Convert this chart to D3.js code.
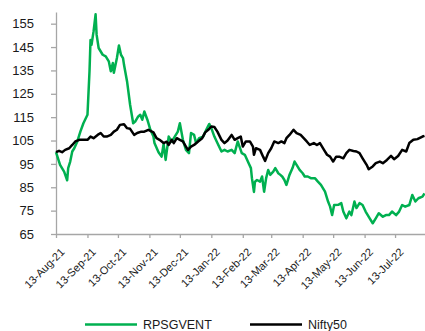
<!DOCTYPE html>
<html>
<head>
<meta charset="utf-8">
<script src="https://cdn.jsdelivr.net/npm/d3@7"></script>
<style>
  html, body { margin: 0; padding: 0; background: #fff; }
  svg { display: block; font-family: "Liberation Sans", Arial, sans-serif; }
</style>
</head>
<body>
<svg id="chart" width="425" height="331"></svg>
<script>
// ---------- DATA ----------
const rpsgDates = ["2021-08-13","2021-08-17","2021-08-21","2021-08-24","2021-08-25","2021-08-27","2021-08-29","2021-08-31",
"2021-09-03","2021-09-06","2021-09-09","2021-09-13","2021-09-15","2021-09-16","2021-09-17","2021-09-19","2021-09-21","2021-09-22",
"2021-09-24","2021-09-28","2021-10-01","2021-10-04","2021-10-06","2021-10-08","2021-10-09","2021-10-12","2021-10-14","2021-10-16",
"2021-10-18","2021-10-19","2021-10-22","2021-10-25","2021-10-28","2021-10-30","2021-11-02","2021-11-04","2021-11-06","2021-11-08",
"2021-11-11","2021-11-14","2021-11-17","2021-11-18","2021-11-22","2021-11-25","2021-11-27","2021-11-29","2021-12-02","2021-12-05",
"2021-12-08","2021-12-11","2021-12-13","2021-12-16","2021-12-19","2021-12-22","2021-12-24","2021-12-27","2021-12-29","2022-01-01",
"2022-01-05","2022-01-08","2022-01-11","2022-01-13","2022-01-16","2022-01-19","2022-01-23","2022-01-26","2022-01-29","2022-02-02",
"2022-02-05","2022-02-08","2022-02-12","2022-02-15","2022-02-18","2022-02-21","2022-02-22","2022-02-24","2022-02-25","2022-02-27",
"2022-03-02","2022-03-04","2022-03-06","2022-03-08","2022-03-10","2022-03-12","2022-03-15","2022-03-17","2022-03-20","2022-03-22",
"2022-03-24","2022-03-26","2022-03-28","2022-03-31","2022-04-03","2022-04-05","2022-04-07","2022-04-10","2022-04-13","2022-04-15",
"2022-04-18","2022-04-21","2022-04-25","2022-04-28","2022-05-01","2022-05-05","2022-05-08","2022-05-10","2022-05-12","2022-05-14",
"2022-05-18","2022-05-21","2022-05-23","2022-05-26","2022-05-29","2022-05-31","2022-06-03","2022-06-05","2022-06-08","2022-06-11",
"2022-06-14","2022-06-18","2022-06-21","2022-06-24","2022-06-27","2022-07-01","2022-07-04","2022-07-07","2022-07-10","2022-07-14",
"2022-07-17","2022-07-20","2022-07-23","2022-07-27","2022-07-30","2022-08-02","2022-08-05","2022-08-09","2022-08-11"];
const rpsgValues = [100,94.6,91.7,88,93.2,96,100.3,101.7,
104.6,108.8,112.4,116,134.6,148,146,151.7,159,150.3,
144.6,141.7,141,138.9,134.6,138.2,134,140.3,145.7,141.7,
140.3,137.4,130.3,120.3,112.4,113.1,115.3,116,113.9,117.4,
113.9,109.6,106.7,103.9,100,98.1,103.5,96.7,106.7,104.5,
106.7,108.8,112.4,105.3,101,99.6,108.2,107.4,103.9,106,
106.7,109.6,112.1,110.3,106.7,103.9,100.3,101,100.3,101,
99.6,104.6,99.6,98.9,96,93.2,88.9,83,87.4,88.1,
87.4,89.6,83.1,88.9,92.4,90.3,91.7,93.2,91,90.3,
89.5,88.1,86,90.3,93.2,96,94.6,92.4,91,89.6,
89.6,88.9,88.9,87.4,86,83.1,78.9,76.7,73.1,77.4,
77.5,78.2,74.6,71.7,74.6,73.1,78.9,76.1,78.2,77.4,
74.6,71.7,69.6,71.7,73.9,72.4,73.1,73.1,74.6,73.1,
74.6,77.4,76.7,77.4,81.7,78.9,80.3,81,82.4];

const niftyDates = ["2021-08-13","2021-08-16","2021-08-19","2021-08-22","2021-08-26","2021-08-29","2021-09-01","2021-09-05",
"2021-09-10","2021-09-13","2021-09-16","2021-09-19","2021-09-23","2021-09-26","2021-09-29","2021-10-02","2021-10-06","2021-10-09",
"2021-10-12","2021-10-15","2021-10-19","2021-10-22","2021-10-25","2021-10-29","2021-11-01","2021-11-05","2021-11-08","2021-11-12",
"2021-11-17","2021-11-20","2021-11-23","2021-11-27","2021-11-30","2021-12-02","2021-12-05","2021-12-07","2021-12-10","2021-12-13",
"2021-12-16","2021-12-19","2021-12-21","2021-12-24","2021-12-27","2021-12-31","2022-01-04","2022-01-07","2022-01-10","2022-01-13",
"2022-01-16","2022-01-19","2022-01-23","2022-01-26","2022-01-29","2022-02-02","2022-02-05","2022-02-08","2022-02-11","2022-02-13",
"2022-02-16","2022-02-20","2022-02-23","2022-02-24","2022-02-26","2022-03-02","2022-03-05","2022-03-07","2022-03-10","2022-03-13",
"2022-03-16","2022-03-20","2022-03-23","2022-03-26","2022-03-28","2022-03-31","2022-04-04","2022-04-07","2022-04-11","2022-04-14",
"2022-04-17","2022-04-20","2022-04-24","2022-04-27","2022-04-30","2022-05-04","2022-05-07","2022-05-10","2022-05-13","2022-05-16",
"2022-05-19","2022-05-23","2022-05-26","2022-05-29","2022-06-02","2022-06-05","2022-06-08","2022-06-11","2022-06-15","2022-06-17",
"2022-06-21","2022-06-24","2022-06-28","2022-07-01","2022-07-05","2022-07-09","2022-07-12","2022-07-16","2022-07-20","2022-07-24",
"2022-07-27","2022-07-31","2022-08-04","2022-08-09","2022-08-11"];
const niftyValues = [100,100.6,100,101,101.7,103.1,104.6,105.3,
105.3,105.3,106.7,106,107.4,108.2,106.7,106.7,107.4,108.8,
109.6,111.7,112,110.3,110,107.4,108.2,108.8,108.8,109.6,
108.5,106,105.3,103.9,104.5,103.1,105.3,103.9,106,105.3,
104.6,102.4,101,102.4,103.1,104.6,106,108.5,109.6,111,
110.8,108.8,105.3,103.9,105,107.4,105.3,106,106.7,102.4,
104.6,104.6,102.4,98.9,101.7,101,98.1,96.3,99.6,101.7,
104.6,103.9,104.6,103.9,106,107.4,109.6,108.2,107.4,106,
104.6,103.1,103.9,103.1,103.9,101,98.9,98.1,96,98.1,
98.1,97.4,99.6,101,100.5,100.3,99.6,97.4,94.6,92.7,
93.9,95.3,96,95.3,96.7,98.4,97,98.4,101,100.3,
103.9,105.3,105.6,106.7,107];

const yTicks = [65,75,85,95,105,115,125,135,145,155];
const xTickDates = ["2021-08-13","2021-09-13","2021-10-13","2021-11-13","2021-12-13","2022-01-13",
"2022-02-13","2022-03-13","2022-04-13","2022-05-13","2022-06-13","2022-07-13"];
const seriesNames = ["RPSGVENT","Nifty50"];
const seriesColors = ["#00B050","#000000"];

// ---------- CHART ----------
const parse = d3.timeParse("%Y-%m-%d");
const svg = d3.select("#chart");

const x = d3.scaleTime()
  .domain([parse("2021-08-13"), parse("2022-08-11")])
  .range([56, 424.5]);
const y = d3.scaleLinear().domain([65, 160]).range([234, 12]);

// y axis
const yAxis = svg.append("g").attr("transform", "translate(56,0)")
  .call(d3.axisLeft(y).tickValues(yTicks).tickSize(5).tickPadding(17).tickSizeOuter(0));
yAxis.select(".domain").attr("stroke", "#A6A6A6").attr("stroke-width", 1.3);
yAxis.selectAll(".tick line").attr("stroke", "#A6A6A6").attr("stroke-width", 1.3);
yAxis.selectAll(".tick text").attr("fill", "#1a1a1a").style("font-size", "13px")
  .style("font-family", "'Liberation Sans', Arial, sans-serif");

// x axis
const xAxis = svg.append("g").attr("transform", "translate(0,234)")
  .call(d3.axisBottom(x).tickValues(xTickDates.map(parse)).tickSize(4).tickSizeOuter(0)
    .tickFormat(d3.timeFormat("%d-%b-%y")));
xAxis.select(".domain").attr("stroke", "#A6A6A6").attr("stroke-width", 1.3);
xAxis.selectAll(".tick line").attr("stroke", "#A6A6A6").attr("stroke-width", 1.3);
xAxis.selectAll(".tick text")
  .attr("fill", "#1a1a1a")
  .style("font-size", "11px")
  .style("font-family", "'Liberation Sans', Arial, sans-serif")
  .attr("text-anchor", "end")
  .attr("dy", "0.35em")
  .attr("transform", "translate(6,16) rotate(-45)")
  .attr("y", 0).attr("x", 0);

// lines
const line = d3.line().x(d => x(d[0])).y(d => y(d[1]));
const rpsg = rpsgDates.map((d, i) => [parse(d), rpsgValues[i]]);
const nifty = niftyDates.map((d, i) => [parse(d), niftyValues[i]]);

svg.append("path").datum(rpsg).attr("d", line)
  .attr("fill", "none").attr("stroke", seriesColors[0]).attr("stroke-width", 2.5)
  .attr("stroke-linejoin", "round");
svg.append("path").datum(nifty).attr("d", line)
  .attr("fill", "none").attr("stroke", seriesColors[1]).attr("stroke-width", 2.5)
  .attr("stroke-linejoin", "round");

// legend
const legend = svg.append("g");
const legendPos = [{lx: 85, tx: 143}, {lx: 250, tx: 308}];
seriesNames.forEach((name, i) => {
  legend.append("line")
    .attr("x1", legendPos[i].lx).attr("x2", legendPos[i].lx + 52)
    .attr("y1", 324.5).attr("y2", 324.5)
    .attr("stroke", seriesColors[i]).attr("stroke-width", 2.5);
  legend.append("text")
    .attr("x", legendPos[i].tx).attr("y", 329)
    .attr("fill", "#1a1a1a")
    .style("font-size", "12.5px")
    .text(name);
});
</script>
</body>
</html>
